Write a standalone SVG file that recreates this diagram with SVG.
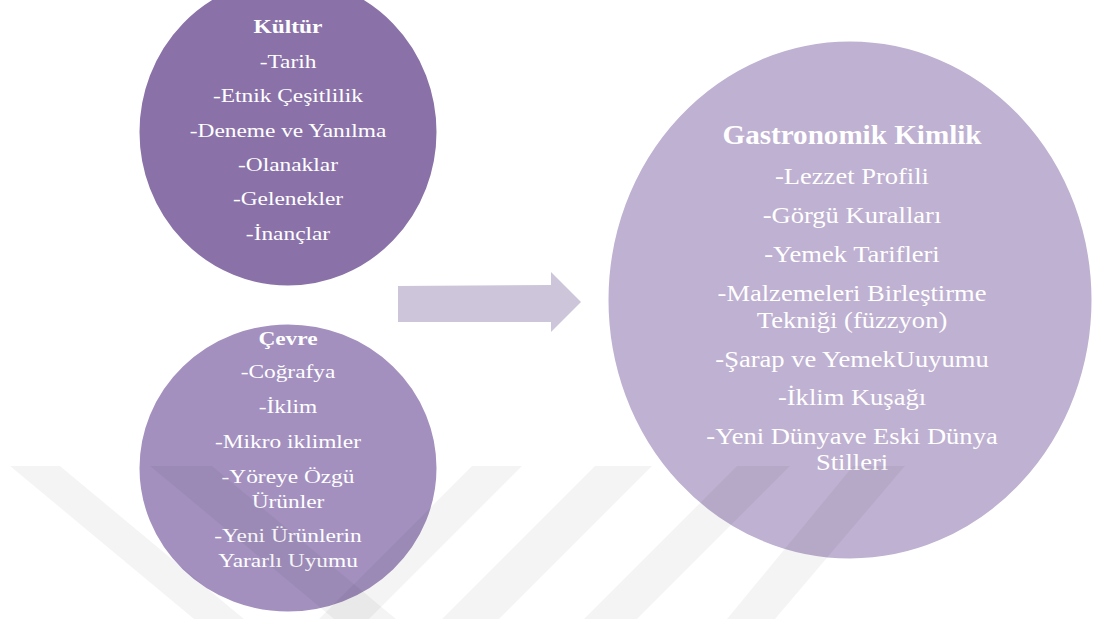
<svg xmlns="http://www.w3.org/2000/svg" width="1094" height="619" viewBox="0 0 1094 619">
<style>
.t{font-family:"Liberation Serif","Times New Roman",serif;fill:#fff;text-anchor:middle}
.s{font-size:19px}
.b{font-weight:bold}
.g{font-size:22.5px}
.circ{stroke:#fff;stroke-width:3}
.wm{fill:#000;fill-opacity:0.045}
</style>
<rect width="1094" height="619" fill="#fff"/>
<g id="node-kultur">
<ellipse class="circ" cx="288" cy="132" rx="150" ry="155" fill="#8a72a9"/>
<g transform="translate(288 0) scale(1.23 1)">
<text class="t s b" x="0" y="33">Kültür</text>
<text class="t s" x="0" y="68">-Tarih</text>
<text class="t s" x="0" y="102">-Etnik Çeşitlilik</text>
<text class="t s" x="0" y="137">-Deneme ve Yanılma</text>
<text class="t s" x="0" y="171">-Olanaklar</text>
<text class="t s" x="0" y="205">-Gelenekler</text>
<text class="t s" x="0" y="240">-İnançlar</text>
</g>
</g>
<g id="node-cevre">
<ellipse class="circ" cx="288" cy="468" rx="150" ry="145" fill="#a390bf"/>
<g transform="translate(288 0) scale(1.23 1)">
<text class="t s b" x="0" y="345">Çevre</text>
<text class="t s" x="0" y="378">-Coğrafya</text>
<text class="t s" x="0" y="413">-İklim</text>
<text class="t s" x="0" y="448">-Mikro iklimler</text>
<text class="t s" x="0" y="483">-Yöreye Özgü</text>
<text class="t s" x="0" y="508">Ürünler</text>
<text class="t s" x="0" y="542">-Yeni Ürünlerin</text>
<text class="t s" x="0" y="567">Yararlı Uyumu</text>
</g>
</g>
<g id="node-gastronomik">
<ellipse class="circ" cx="850" cy="300" rx="243" ry="260" fill="#bfb1d1"/>
<text class="t b" style="font-size:28px" transform="translate(852 0) scale(1.04 1)" x="0" y="144">Gastronomik Kimlik</text>
<g transform="translate(852 0) scale(1.18 1)">
<text class="t g" x="0" y="184">-Lezzet Profili</text>
<text class="t g" x="0" y="223">-Görgü Kuralları</text>
<text class="t g" x="0" y="262">-Yemek Tarifleri</text>
<text class="t g" x="0" y="301">-Malzemeleri Birleştirme</text>
<text class="t g" x="0" y="328">Tekniği (füzzyon)</text>
<text class="t g" x="0" y="367">-Şarap ve YemekUuyumu</text>
<text class="t g" x="0" y="405">-İklim Kuşağı</text>
<text class="t g" x="0" y="444">-Yeni Dünyave Eski Dünya</text>
<text class="t g" x="0" y="470">Stilleri</text>
</g>
</g>
<g id="connectors">
<polygon points="398,286 551,285 551,272 581,302 551,332 551,322 398,322" fill="#cdc5d9"/>
</g>
<g id="watermark">
<polygon class="wm" points="10,466 60,466 244,619 194,619"/>
<polygon class="wm" points="150,466 212,466 396,619 334,619"/>
<polygon class="wm" points="472,466 522,466 369,619 319,619"/>
<polygon class="wm" points="595,466 652,466 499,619 442,619"/>
<polygon class="wm" points="737,466 790,466 637,619 584,619"/>
<polygon class="wm" points="853,466 905,466 775,619 727,619"/>
</g>
</svg>
